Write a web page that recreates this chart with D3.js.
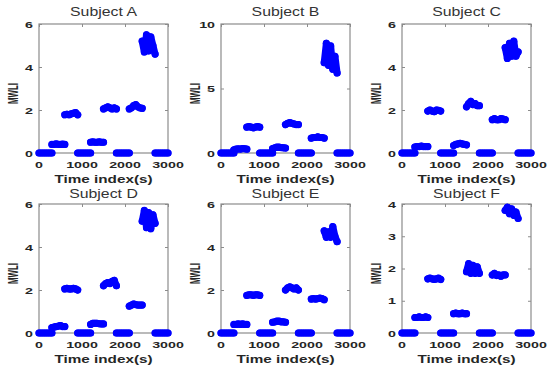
<!DOCTYPE html>
<html>
<head>
<meta charset="utf-8">
<script src="https://cdn.jsdelivr.net/npm/d3@7"></script>
<style>
  body { margin: 0; background: #fff; }
  svg { display: block; }
</style>
</head>
<body>
<svg id="chart" width="548" height="371"></svg>
<script>
// titles of the six panels
const subjectNames = ['Subject A', 'Subject B', 'Subject C', 'Subject D', 'Subject E', 'Subject F'];

// ten 300 s blocks, each sampled every 50 s
const segmentStarts = [0, 300, 600, 900, 1200, 1500, 1800, 2100, 2400, 2700];
const sampleOffsets = [0, 50, 100, 150, 200, 250, 300];

const xTicks = [0, 1000, 2000, 3000];
const yMaxes = [6, 10, 6, 6, 6, 4];
const yTickLists = [
	[0, 2, 4, 6],
	[0, 5, 10],
	[0, 2, 4, 6],
	[0, 2, 4, 6],
	[0, 2, 4, 6],
	[0, 1, 2, 3, 4]
];

// MWLI values per block (rest blocks are flat at 0)
const rest = [0, 0, 0, 0, 0, 0, 0];

const subjectA = [
	rest,
	[0.4, 0.4, 0.42, 0.4, 0.4, 0.41, 0.4],
	[1.78, 1.8, 1.78, 1.82, 1.85, 1.88, 1.78],
	rest,
	[0.5, 0.52, 0.5, 0.5, 0.52, 0.5, 0.5],
	[2.05, 2.1, 2.15, 2.1, 2.05, 2.1, 2.05],
	rest,
	[2.05, 2.1, 2.2, 2.25, 2.15, 2.1, 2.08],
	[5.2, 4.7, 5.5, 4.75, 5.4, 5.0, 4.6],
	rest
];
const subjectB = [
	rest,
	[0.25, 0.3, 0.32, 0.3, 0.35, 0.33, 0.3],
	[2.0, 2.05, 2.0, 1.95, 2.0, 2.05, 2.0],
	rest,
	[0.35, 0.4, 0.45, 0.45, 0.42, 0.4, 0.38],
	[2.2, 2.3, 2.35, 2.3, 2.25, 2.2, 2.2],
	rest,
	[1.15, 1.2, 1.2, 1.25, 1.2, 1.2, 1.15],
	[7.0, 8.5, 6.8, 8.3, 6.5, 7.5, 6.2],
	rest
];
const subjectC = [
	rest,
	[0.28, 0.3, 0.3, 0.32, 0.3, 0.3, 0.3],
	[1.95, 2.0, 1.95, 1.92, 2.0, 1.98, 1.95],
	rest,
	[0.35, 0.4, 0.42, 0.45, 0.42, 0.4, 0.38],
	[2.15, 2.3, 2.4, 2.25, 2.3, 2.2, 2.2],
	rest,
	[1.55, 1.6, 1.55, 1.55, 1.6, 1.58, 1.55],
	[4.9, 4.4, 5.1, 4.5, 5.2, 4.5, 4.7],
	rest
];
const subjectD = [
	rest,
	[0.25, 0.28, 0.3, 0.32, 0.35, 0.3, 0.3],
	[2.05, 2.08, 2.05, 2.05, 2.08, 2.05, 2.0],
	rest,
	[0.4, 0.45, 0.45, 0.45, 0.43, 0.42, 0.42],
	[2.2, 2.3, 2.35, 2.3, 2.4, 2.45, 2.2],
	rest,
	[1.25, 1.3, 1.35, 1.32, 1.3, 1.3, 1.3],
	[5.2, 5.7, 4.9, 5.6, 4.85, 5.5, 5.1],
	rest
];
const subjectE = [
	rest,
	[0.4, 0.4, 0.42, 0.4, 0.42, 0.4, 0.4],
	[1.75, 1.78, 1.78, 1.75, 1.78, 1.78, 1.75],
	rest,
	[0.5, 0.52, 0.55, 0.55, 0.52, 0.52, 0.5],
	[2.0, 2.1, 2.15, 2.1, 2.05, 2.1, 2.0],
	rest,
	[1.58, 1.6, 1.58, 1.6, 1.62, 1.6, 1.55],
	[4.75, 4.45, 4.7, 4.45, 4.95, 4.5, 4.25],
	rest
];
const subjectF = [
	rest,
	[0.48, 0.48, 0.5, 0.48, 0.48, 0.5, 0.48],
	[1.68, 1.7, 1.68, 1.66, 1.68, 1.7, 1.66],
	rest,
	[0.6, 0.62, 0.6, 0.6, 0.62, 0.6, 0.6],
	[1.9, 2.15, 1.85, 2.1, 1.85, 2.05, 1.85],
	rest,
	[1.8, 1.85, 1.78, 1.8, 1.76, 1.8, 1.8],
	[3.8, 3.9, 3.7, 3.85, 3.65, 3.75, 3.55],
	rest
];

const allSubjects = [subjectA, subjectB, subjectC, subjectD, subjectE, subjectF];

const PANEL_W = 129;
const PANEL_H = 129;
const colLeft = [39, 221, 402];
const rowTop = [24, 204];
const BOX_COLOR = '#8c8c8c';
const TEXT_COLOR = '#262626';
const MARK_COLOR = '#0000ff';

const svg = d3.select('#chart');
svg.append('rect').attr('width', 548).attr('height', 371).attr('fill', '#fff');

function drawPanel(i) {
	const left = colLeft[i % 3];
	const top = rowTop[Math.floor(i / 3)];
	const x = d3.scaleLinear().domain([0, 3000]).range([left, left + PANEL_W]);
	const y = d3.scaleLinear().domain([0, yMaxes[i]]).range([top + PANEL_H, top]);

	const g = svg.append('g').attr('class', 'panel');

	// ticks on all four sides, pointing inwards
	const tickLines = g.append('g').attr('class', 'ticks');
	tickLines.append('g')
		.attr('transform', `translate(0,${top + PANEL_H})`)
		.call(d3.axisBottom(x).tickValues(xTicks).tickSizeInner(-3).tickSizeOuter(0).tickFormat(''));
	tickLines.append('g')
		.attr('transform', `translate(0,${top})`)
		.call(d3.axisTop(x).tickValues(xTicks).tickSizeInner(-3).tickSizeOuter(0).tickFormat(''));
	tickLines.append('g')
		.attr('transform', `translate(${left},0)`)
		.call(d3.axisLeft(y).tickValues(yTickLists[i]).tickSizeInner(-3).tickSizeOuter(0).tickFormat(''));
	tickLines.append('g')
		.attr('transform', `translate(${left + PANEL_W},0)`)
		.call(d3.axisRight(y).tickValues(yTickLists[i]).tickSizeInner(-3).tickSizeOuter(0).tickFormat(''));
	tickLines.selectAll('.domain').remove();
	tickLines.selectAll('line').attr('stroke', BOX_COLOR).attr('stroke-width', 1);

	// axes box
	g.append('rect')
		.attr('x', left)
		.attr('y', top)
		.attr('width', PANEL_W)
		.attr('height', PANEL_H)
		.attr('fill', 'none')
		.attr('stroke', BOX_COLOR)
		.attr('stroke-width', 1.2);

	// the data blocks
	const line = d3.line().x((d) => x(d[0])).y((d) => y(d[1]));
	const blocks = allSubjects[i].map((vals, s) =>
		sampleOffsets.map((o, j) => [segmentStarts[s] + o, vals[j]])
	);
	const marks = g.append('g').attr('class', 'marks');
	marks.selectAll('path')
		.data(blocks)
		.enter()
		.append('path')
		.attr('d', line)
		.attr('fill', 'none')
		.attr('stroke', MARK_COLOR)
		.attr('stroke-width', 7)
		.attr('stroke-linecap', 'round')
		.attr('stroke-linejoin', 'round');
	marks.selectAll('circle')
		.data(blocks.flat())
		.enter()
		.append('circle')
		.attr('cx', (d) => x(d[0]))
		.attr('cy', (d) => y(d[1]))
		.attr('r', 3.6)
		.attr('fill', MARK_COLOR);

	// tick labels (the source figure is stretched sideways)
	g.append('g')
		.selectAll('text')
		.data(xTicks)
		.enter()
		.append('text')
		.attr('transform', (d) => `translate(${x(d)},${top + PANEL_H + 15}) scale(1.5,1)`)
		.attr('text-anchor', 'middle')
		.attr('font-family', 'Liberation Sans, Arial, sans-serif')
		.attr('font-weight', 'bold')
		.attr('font-size', '9.5px')
		.attr('fill', TEXT_COLOR)
		.text((d) => d);
	g.append('g')
		.selectAll('text')
		.data(yTickLists[i])
		.enter()
		.append('text')
		.attr('transform', (d) => `translate(${left - 6},${y(d) + 3.5}) scale(1.5,1)`)
		.attr('text-anchor', 'end')
		.attr('font-family', 'Liberation Sans, Arial, sans-serif')
		.attr('font-weight', 'bold')
		.attr('font-size', '9.5px')
		.attr('fill', TEXT_COLOR)
		.text((d) => d);

	// axis labels and title
	g.append('text')
		.attr('transform', `translate(${left + PANEL_W / 2},${top + PANEL_H + 30}) scale(1.33,1)`)
		.attr('text-anchor', 'middle')
		.attr('font-family', 'Liberation Sans, Arial, sans-serif')
		.attr('font-weight', 'bold')
		.attr('font-size', '11.5px')
		.attr('fill', TEXT_COLOR)
		.text('Time index(s)');
	g.append('text')
		.attr('transform', `translate(${left - 21.5},${top + PANEL_H / 2 + 5}) rotate(-90) scale(0.56,1)`)
		.attr('text-anchor', 'middle')
		.attr('font-family', 'Liberation Sans, Arial, sans-serif')
		.attr('font-weight', 'bold')
		.attr('font-size', '14px')
		.attr('fill', TEXT_COLOR)
		.text('MWLI');
	g.append('text')
		.attr('transform', `translate(${left + PANEL_W / 2},${top - (i < 3 ? 8 : 6)}) scale(1.32,1)`)
		.attr('text-anchor', 'middle')
		.attr('font-family', 'Liberation Sans, Arial, sans-serif')
		.attr('font-size', '12px')
		.attr('fill', '#333')
		.text(subjectNames[i]);
}

for (let i = 0; i < allSubjects.length; i++) {
	drawPanel(i);
}
</script>
</body>
</html>
